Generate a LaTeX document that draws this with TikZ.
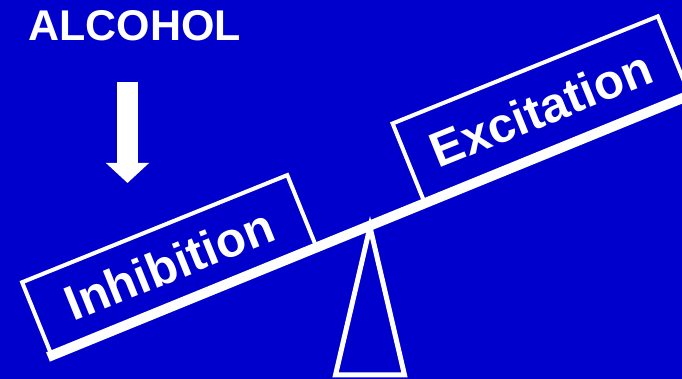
\documentclass[tikz,border=0pt]{standalone}
\usepackage{fontspec}
\setmainfont{Liberation Sans}
\usetikzlibrary{arrows.meta,calc}
\definecolor{slidebg}{HTML}{0000CC}

\begin{document}
\begin{tikzpicture}[x=1pt,y=1pt,
  scalebox/.style={draw=white,line width=4pt,minimum width=286pt,inner sep=0pt,
    rotate=22,anchor=south west,text=white,font=\fontsize{49}{54}\selectfont\bfseries}]
\fill[slidebg] (0,0) rectangle (682,379);
\clip (0,0) rectangle (682,379);
% title and arrow
\node[anchor=base west,inner sep=0pt,text=white,font=\fontsize{43}{50}\selectfont\bfseries] (alc) at (28,338) {ALCOHOL};
\coordinate (arrtop) at (127.5,297);
\coordinate (arrtip) at (127.5,196);
\draw[white,line width=21pt,-{Triangle[width=42pt,length=20pt]}] (arrtop)--(arrtip);
% fulcrum
\draw[white,line width=5pt,line join=miter] (370,152)--(335.5,4)--(404.5,4)--cycle;
% beam
\coordinate (beamL) at (48,22);
\coordinate (beamR) at ($(beamL)+(22.2:700)$);
\draw[white,line width=10pt] (beamL)--(beamR);
% boxes on the beam
\node[scalebox,minimum height=77pt] (inhib) at ($(beamL)+(22.2:2)$) {Inhibition};
\node[scalebox,minimum height=84pt] (excit) at ($(beamL)+(22.2:405)$) {Excitation};
\end{tikzpicture}
\end{document}
